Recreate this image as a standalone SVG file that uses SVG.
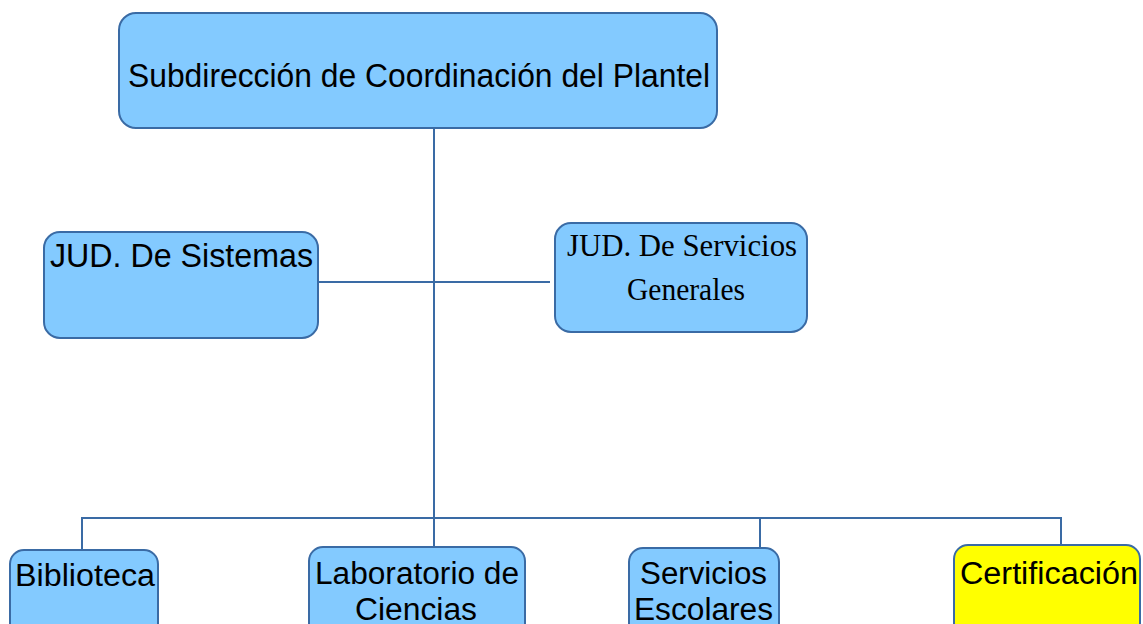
<svg xmlns="http://www.w3.org/2000/svg" width="1143" height="624" viewBox="0 0 1143 624">
<style>
.box{fill:#83CAFF;stroke:#3A6BA5;stroke-width:2}
.yel{fill:#FFFF00;stroke:#3A6BA5;stroke-width:2}
.ln{stroke:#3A6BA5;stroke-width:2;fill:none}
.s{font-family:"Liberation Sans",Arial,sans-serif;fill:#000}
.r{font-family:"Liberation Serif","Times New Roman",serif;fill:#000}
</style>
<rect width="1143" height="624" fill="#fff"/>
<g id="connectors">
<line class="ln" x1="434" y1="128" x2="434" y2="518"/>
<line class="ln" x1="319" y1="282" x2="550" y2="282"/>
<line class="ln" x1="82" y1="518" x2="1061" y2="518"/>
<line class="ln" x1="82" y1="517" x2="82" y2="550"/>
<line class="ln" x1="434" y1="518" x2="434" y2="547"/>
<line class="ln" x1="760" y1="518" x2="760" y2="548"/>
<line class="ln" x1="1061" y1="517" x2="1061" y2="545"/>
</g>
<g id="n-subdireccion">
<rect class="box" x="119" y="13" width="598" height="115" rx="17"/>
<text class="s" x="128" y="87" font-size="34" textLength="582" lengthAdjust="spacingAndGlyphs">Subdirección de Coordinación del Plantel</text>
</g>
<g id="n-sistemas">
<rect class="box" x="44" y="232" width="274" height="106" rx="16"/>
<text class="s" x="50" y="267" font-size="33" textLength="263" lengthAdjust="spacingAndGlyphs">JUD. De Sistemas</text>
</g>
<g id="n-servgen">
<rect class="box" x="555" y="223" width="252" height="109" rx="16"/>
<text class="r" x="567" y="256" font-size="32" textLength="230" lengthAdjust="spacingAndGlyphs">JUD. De Servicios</text>
<text class="r" x="627" y="300" font-size="32" textLength="118" lengthAdjust="spacingAndGlyphs">Generales</text>
</g>
<g id="n-biblioteca">
<rect class="box" x="10" y="550" width="148" height="90" rx="14"/>
<text class="s" x="15" y="586" font-size="31" textLength="140" lengthAdjust="spacingAndGlyphs">Biblioteca</text>
</g>
<g id="n-laboratorio">
<rect class="box" x="309" y="547" width="216" height="93" rx="14"/>
<text class="s" x="315" y="584" font-size="31" textLength="204" lengthAdjust="spacingAndGlyphs">Laboratorio de</text>
<text class="s" x="355" y="620" font-size="31" textLength="122" lengthAdjust="spacingAndGlyphs">Ciencias</text>
</g>
<g id="n-servesc">
<rect class="box" x="629" y="548" width="150" height="92" rx="14"/>
<text class="s" x="640" y="584" font-size="31" textLength="127" lengthAdjust="spacingAndGlyphs">Servicios</text>
<text class="s" x="634" y="620" font-size="31" textLength="139" lengthAdjust="spacingAndGlyphs">Escolares</text>
</g>
<g id="n-certificacion">
<rect class="yel" x="954" y="545" width="186" height="95" rx="14"/>
<text class="s" x="960" y="584" font-size="31" textLength="178" lengthAdjust="spacingAndGlyphs">Certificación</text>
</g>
</svg>
